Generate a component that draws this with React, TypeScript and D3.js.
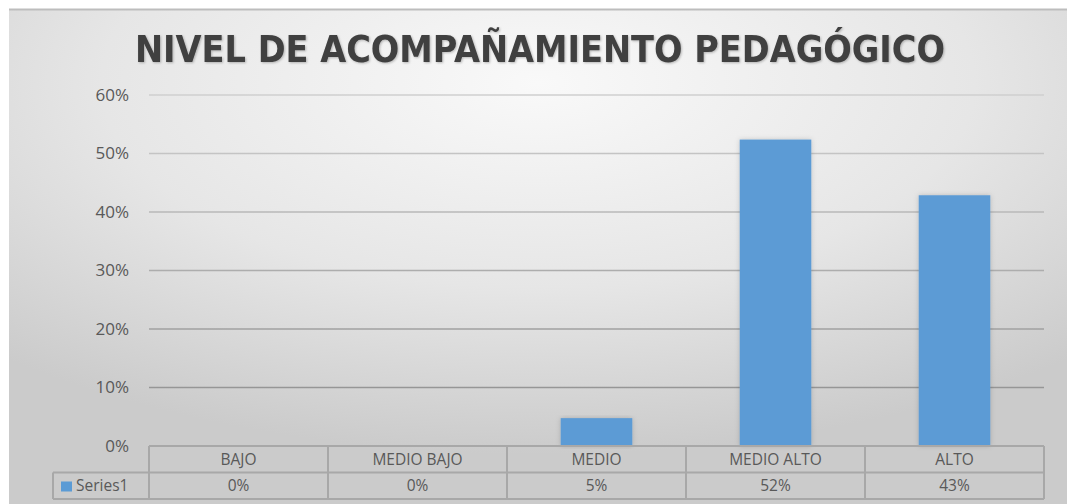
import React from "react";
import * as d3 from "d3";

const title = "NIVEL DE ACOMPAÑAMIENTO PEDAGÓGICO";
const categories = ["BAJO", "MEDIO BAJO", "MEDIO", "MEDIO ALTO", "ALTO"];
const seriesName = "Series1";
const values = [0, 0, 0.0476, 0.5238, 0.4286];
const yTicks = [0, 0.1, 0.2, 0.3, 0.4, 0.5, 0.6];

const W = 1067;
const H = 504;
const plotLeft = 149;
const plotRight = 1044;
const plotTop = 95;
const plotBottom = 446;
const rowH = 26.5;

export default function App() {
  const x = d3.scaleBand<string>().domain(categories).range([plotLeft, plotRight]).paddingInner(0).paddingOuter(0);
  const y = d3.scaleLinear().domain([0, 0.6]).range([plotBottom, plotTop]);
  const pct = d3.format(".0%");
  const barW = x.bandwidth() * 0.4;
  const gridColor = d3.scaleLinear<string>().domain([0.6, 0]).range(["#cfcfcf", "#8a8a8a"]);
  const font = "'Open Sans', 'Liberation Sans', sans-serif";
  const lineC = "#a8a8a8";
  const row1 = plotBottom + rowH;
  const row2 = plotBottom + rowH * 2;

  return (
    <svg width={W} height={H} style={{ position: "absolute", left: 0, top: 0, display: "block" }}>
      <defs>
        <radialGradient id="bg" cx="0.5" cy="0.15" r="0.75" fx="0.5" fy="0.15">
          <stop offset="0" stopColor="#f9f9f9" />
          <stop offset="0.55" stopColor="#e6e6e6" />
          <stop offset="1" stopColor="#cbcbcb" />
        </radialGradient>
        <filter id="sh" x="-20%" y="-10%" width="140%" height="120%">
          <feDropShadow dx="0" dy="0" stdDeviation="2.5" floodColor="#000" floodOpacity="0.18" />
        </filter>
        <filter id="tsh" x="-5%" y="-20%" width="110%" height="140%">
          <feDropShadow dx="1" dy="1" stdDeviation="1" floodColor="#000" floodOpacity="0.25" />
        </filter>
      </defs>
      <rect x={0} y={0} width={W} height={H} fill="#ffffff" />
      <rect x={9} y={9} width={W - 9} height={H - 9} fill="url(#bg)" />
      <line x1={9} x2={W} y1={9.5} y2={9.5} stroke="#bdbdbd" strokeWidth={2} />
      <text
        x={540}
        y={62}
        textAnchor="middle"
        fontFamily="'Liberation Sans Narrow', 'DejaVu Sans Condensed', 'Liberation Sans', sans-serif"
        fontWeight="bold"
        fontSize={38}
        fill="#404040"
        textLength={810}
        lengthAdjust="spacingAndGlyphs"
        filter="url(#tsh)"
      >
        {title}
      </text>
      {yTicks.map((t) => (
        <g key={t}>
          {t > 0 && (
            <line x1={plotLeft} x2={plotRight} y1={y(t)} y2={y(t)} stroke={gridColor(t)} strokeWidth={1.5} />
          )}
          <text x={129} y={y(t)} dy="0.35em" textAnchor="end" fontFamily={font} fontSize={17} fill="#595959">
            {pct(t)}
          </text>
        </g>
      ))}
      {categories.map((c, i) => (
        <rect
          key={c}
          x={(x(c) as number) + (x.bandwidth() - barW) / 2}
          y={y(values[i])}
          width={barW}
          height={plotBottom - y(values[i])}
          fill="#5b9bd5"
          filter={values[i] > 0 ? "url(#sh)" : undefined}
        />
      ))}
      <g stroke={lineC} strokeWidth={2} fill="none">
        <line x1={plotLeft} x2={plotRight} y1={plotBottom} y2={plotBottom} />
        <line x1={53} x2={plotRight} y1={row1} y2={row1} />
        <line x1={53} x2={plotRight} y1={row2} y2={row2} />
        <line x1={53} x2={53} y1={row1} y2={row2} />
        {categories.map((c) => (
          <line key={c} x1={x(c) as number} x2={x(c) as number} y1={plotBottom} y2={row2} />
        ))}
        <line x1={plotRight} x2={plotRight} y1={plotBottom} y2={row2} />
      </g>
      {categories.map((c, i) => (
        <g key={c} fontFamily={font} fontSize={15.5} fill="#595959" textAnchor="middle">
          <text x={(x(c) as number) + x.bandwidth() / 2} y={plotBottom + rowH / 2} dy="0.35em">
            {c}
          </text>
          <text x={(x(c) as number) + x.bandwidth() / 2} y={row1 + rowH / 2} dy="0.35em">
            {pct(values[i])}
          </text>
        </g>
      ))}
      <rect x={61} y={row1 + 9} width={11} height={10} fill="#5b9bd5" />
      <text x={76} y={row1 + rowH / 2} dy="0.35em" fontFamily={font} fontSize={15.5} fill="#595959">
        {seriesName}
      </text>
    </svg>
  );
}
